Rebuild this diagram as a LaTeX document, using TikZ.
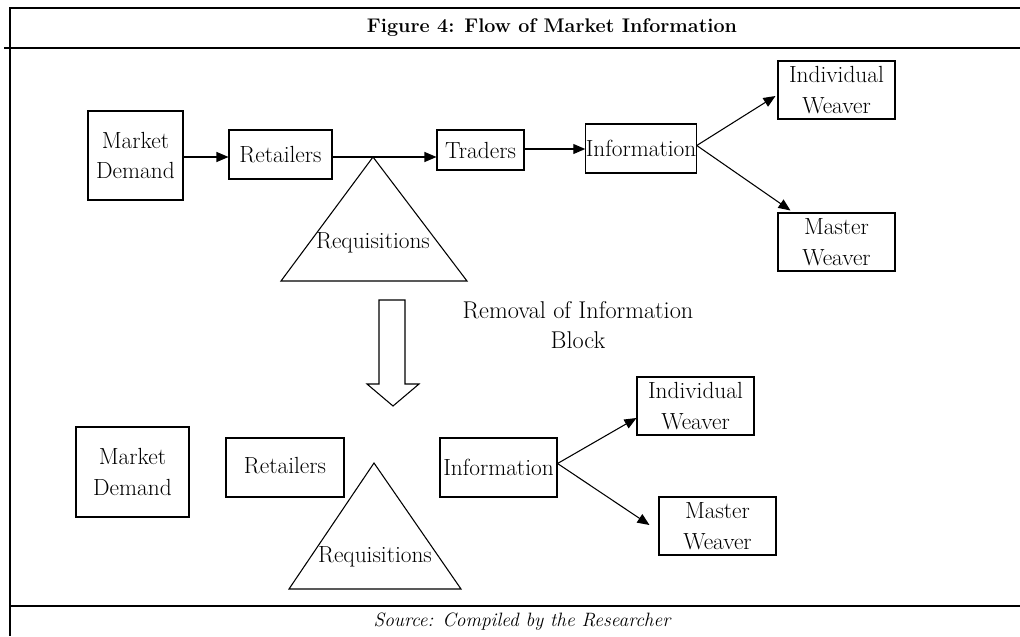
\documentclass[tikz,border=0pt]{standalone}
\usetikzlibrary{arrows.meta}
\newcommand\bodyfnt{\fontsize{17.5}{23}\selectfont}
\begin{document}
\begin{tikzpicture}[x=0.75pt,y=-0.75pt,
  box/.style={draw, line width=0.8pt, inner sep=0pt, align=center, font=\bodyfnt},
  sz/.style 2 args={minimum width=#1*0.75pt, minimum height=#2*0.75pt},
  flow/.style={-{Triangle[length=9pt,width=7.5pt]}, line width=0.8pt},
  frame/.style={line width=0.9pt},
  tri/.style={draw, line width=0.8pt},
  lbl/.style={inner sep=0pt, align=center, font=\bodyfnt}]
\fill[white] (0,0) rectangle (1020,636);
\useasboundingbox (0,0) rectangle (1020,636);
% frame
\coordinate (ftl) at (10,8);
\coordinate (ftr) at (1020,8);
\coordinate (fbl) at (10,636);
\coordinate (tll) at (4,48);
\coordinate (tlr) at (1020,48);
\coordinate (sll) at (10,606);
\coordinate (slr) at (1020,606);
\draw[frame] (ftr) -- (ftl) -- (fbl);
\draw[frame] (tll) -- (tlr);
\draw[frame] (sll) -- (slr);
\node[inner sep=0pt, font=\fontsize{14.8}{18}\selectfont\bfseries] (title) at (552,28) {Figure 4: Flow of Market Information};
\node[inner sep=0pt, font=\fontsize{14.5}{16}\selectfont\itshape] (src) at (522,622) {Source: Compiled by the Researcher};
% top row
\node[box, sz={95}{89}] (md1) at (135.5,155.5) {Market\\Demand};
\node[box, sz={103}{49}] (ret1) at (280.5,154.5) {Retailers};
\node[box, sz={87}{40}] (tr1) at (480.5,150) {Traders};
\node[box, sz={108}{49}] (inf1) at (641,148.5) {Information};
\node[box, sz={117}{58}] (iw1) at (836.5,90) {Individual\\Weaver};
\node[box, sz={117}{58}] (mw1) at (836.5,242) {Master\\Weaver};
\coordinate (t1a) at (373,157);
\coordinate (t1l) at (281,281);
\coordinate (t1r) at (467,281);
\draw[tri] (t1a) -- (t1l) -- (t1r) -- cycle;
\node[lbl] (rq1) at (373,243) {Requisitions};
\draw[flow] (md1.east |- 0,157) -- (ret1.west |- 0,157);
\draw[flow] (ret1.east |- 0,157) -- (tr1.west |- 0,157);
\draw[flow] (tr1.east |- 0,149) -- (inf1.west |- 0,149);
\draw[flow] ([shift={(0,-3)}]inf1.east) -- ([shift={(-2,6)}]iw1.west);
\draw[flow] ([shift={(0,-3)}]inf1.east) -- ([shift={(13,-2)}]mw1.north west);
% block arrow
\draw[line width=0.8pt, fill=white] (379,300) -- (405,300) -- (405,384) -- (419,384) -- (393,406) -- (367,384) -- (379,384) -- cycle;
\node[lbl, font=\fontsize{18.2}{22.5}\selectfont] (rem) at (578,325) {Removal of Information\\Block};
% bottom row
\node[box, sz={113}{90}] (md2) at (132.5,472) {Market\\Demand};
\node[box, sz={118}{59}] (ret2) at (285,467.5) {\raisebox{3pt}{Retailers}};
\node[box, sz={117}{59}] (inf2) at (498.5,467.5) {Information};
\node[box, sz={117}{58}] (iw2) at (695.5,406) {Individual\\Weaver};
\node[box, sz={117}{58}] (mw2) at (717.5,526) {Master\\Weaver};
\coordinate (t2a) at (374,463);
\coordinate (t2l) at (289,589);
\coordinate (t2r) at (461,589);
\draw[tri] (t2a) -- (t2l) -- (t2r) -- cycle;
\node[lbl] (rq2) at (375,557) {Requisitions};
\draw[flow] ([shift={(0,-4)}]inf2.east) -- ([shift={(0,12)}]iw2.west);
\draw[flow] ([shift={(0,-4)}]inf2.east) -- ([shift={(-9,-1)}]mw2.west);
\end{tikzpicture}
\end{document}
